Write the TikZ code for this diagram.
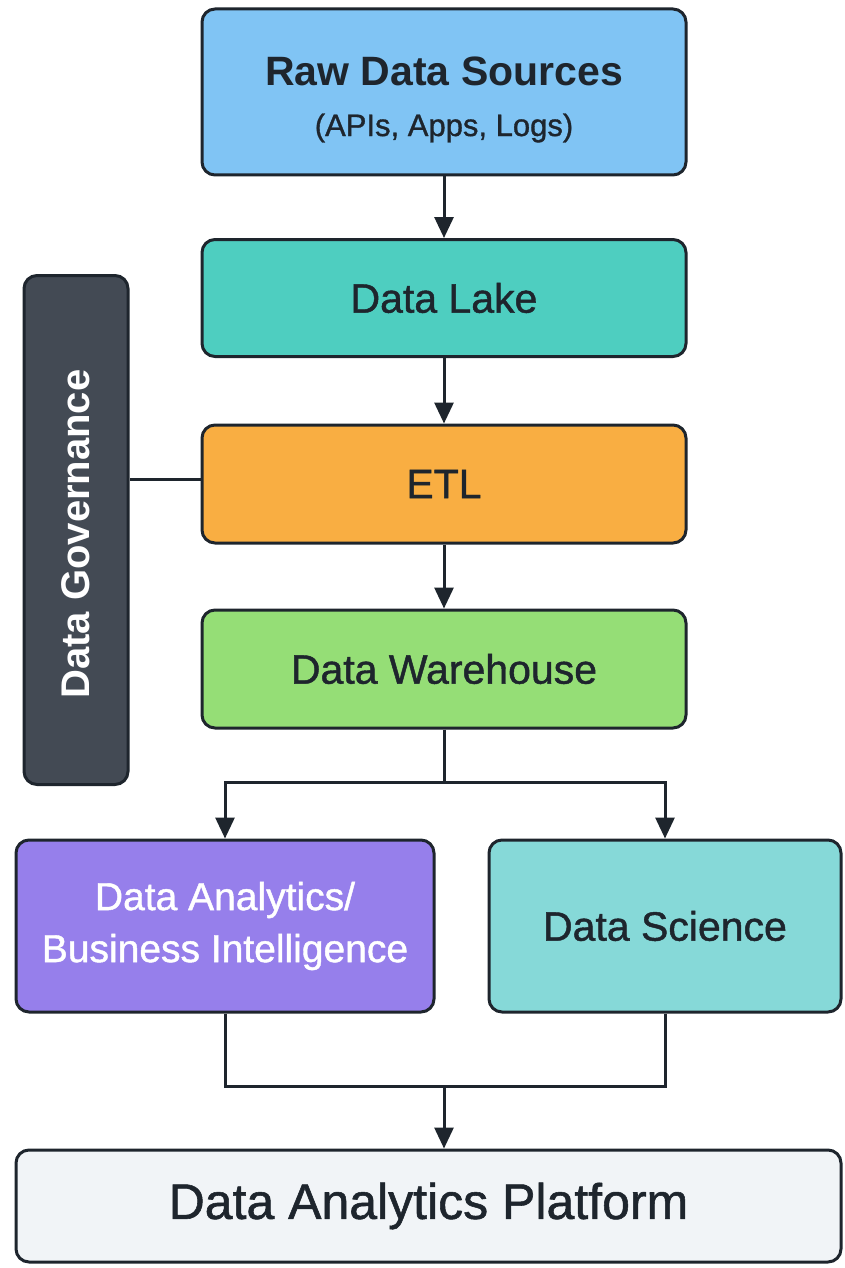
\documentclass[tikz,border=0pt]{standalone}
\usepackage{fontspec}
\setmainfont{Liberation Sans}
\newfontfamily\medium{Liberation Sans}[FakeBold=1.1]
\usetikzlibrary{arrows.meta,positioning}
\definecolor{ink}{HTML}{1E252D}
\definecolor{rawblue}{HTML}{80C4F4}
\definecolor{laketeal}{HTML}{4ECEC0}
\definecolor{etlorange}{HTML}{F9AE42}
\definecolor{whgreen}{HTML}{95DE76}
\definecolor{govgray}{HTML}{434A54}
\definecolor{bipurple}{HTML}{967FEB}
\definecolor{dsteal}{HTML}{86D9D8}
\definecolor{platgray}{HTML}{F1F4F7}
\tikzset{
  box/.style={draw=ink, line width=3pt, rounded corners=13pt, inner sep=0pt,
              align=center, text=ink, font=\medium\fontsize{41}{50}\selectfont},
  link/.style={draw=ink, line width=3pt},
  arr/.style={link, -{Triangle[length=21pt,width=19pt]}},
}
\begin{document}
\begin{tikzpicture}[x=1pt,y=-1pt]
  \useasboundingbox[fill=white] (0,0) rectangle (845,1268);

  % main pipeline
  \node[box, fill=rawblue, minimum width=484pt, minimum height=166pt] (raw) at (444,92) {};
  \node[font=\fontsize{41}{48}\bfseries, text=ink] (rawt) at (444,71) {Raw Data Sources};
  \node[font=\medium\fontsize{31}{38}\selectfont, text=ink] (raws) at (444,128) {(APIs, Apps, Logs)};
  \node[box, fill=laketeal, minimum width=484pt, minimum height=117pt] (lake) at (444,298) {Data Lake};
  \node[box, fill=etlorange, minimum width=484pt, minimum height=118pt] (etl) at (444,484) {ETL};
  \node[box, fill=whgreen, minimum width=484pt, minimum height=118pt] (wh) at (444,669) {Data Warehouse};

  % governance bar
  \node[box, fill=govgray, minimum width=104pt, minimum height=509pt] (gov) at (76,530) {};
  \node[rotate=90, text=white, font=\fontsize{40}{48}\bfseries] (govt) at (76,534) {Data Governance};

  % consumers
  \node[box, fill=bipurple, text=white, minimum width=418pt, minimum height=172pt,
        font=\medium\fontsize{39}{52}\selectfont] (bi) at (225,926) {Data Analytics/\\Business Intelligence};
  \node[box, fill=dsteal, minimum width=352pt, minimum height=172pt] (ds) at (665,926) {Data Science};

  % platform
  \node[box, fill=platgray, minimum width=825pt, minimum height=112pt,
        font=\medium\fontsize{50}{60}\selectfont] (plat) at (428.5,1206) {Data Analytics Platform};

  % connectors
  \draw[arr] (raw.south) -- (lake.north);
  \draw[arr] (lake.south) -- (etl.north);
  \draw[arr] (etl.south) -- (wh.north);
  \coordinate (govtap) at ([yshift=5pt]etl.west);
  \draw[link] (govtap) -- (govtap -| gov.east);

  \coordinate (split) at (444,782);
  \draw[link] (wh.south) -- (split);
  \draw[arr] (split) -| (bi.north);
  \draw[arr] (split) -| (ds.north);

  \coordinate (merge) at (444,1086);
  \draw[link] (bi.south) |- (merge);
  \draw[link] (ds.south) |- (merge);
  \draw[arr] (merge) -- (merge |- plat.north);
\end{tikzpicture}
\end{document}
